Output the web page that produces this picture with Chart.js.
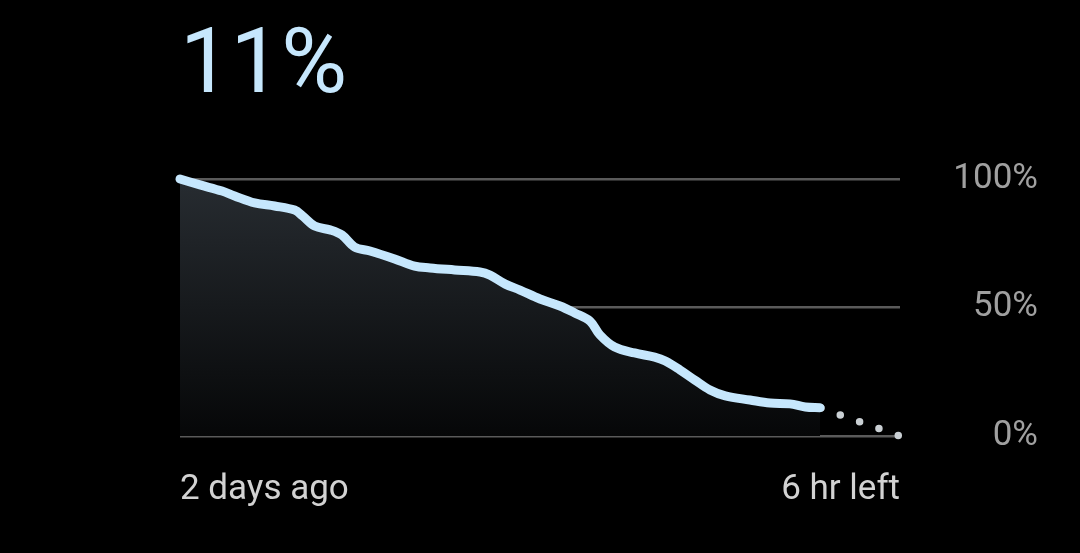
<!DOCTYPE html>
<html>
<head>
<meta charset="utf-8">
<script src="https://cdn.jsdelivr.net/npm/chart.js@4"></script>
<style>
  html, body { margin: 0; padding: 0; background: #000; }
  #wrap { position: relative; width: 1080px; height: 553px; }
  #level { position: absolute; left: 180px; top: 9px; color: #c6e7fd; font: 400 90px Roboto, sans-serif; }
  canvas { position: absolute; left: 0; top: 0; }
</style>
</head>
<body>
<div id="wrap">
  <div id="level">11%</div>
  <canvas id="chart" width="1080" height="553"></canvas>
</div>
<script>
// hours from "2 days ago" (0) to "6 hr left" (54); now = 48
const hours = [0, 1.5, 3.15, 4.1, 5.6, 7.1, 8.6, 9.2, 10.1, 11.25, 12.15, 13.1, 14.25, 16.1, 17.6, 18.75,
    20.6, 22.5, 23.25, 24.4, 25.5, 27, 28.5, 29.6, 30.75, 31.5, 32.6, 34.1, 35.6, 36.4, 37.5, 38.6,
    39.75, 40.9, 42.75, 44.25, 45.75, 46.9, 48];
const battery = [100, 97.7, 95.3, 93.4, 90.7, 89.5, 87.9, 85.6, 81.7, 80.2, 78.2, 73.5, 72.0, 68.9, 66.1, 65.4,
    64.6, 63.8, 62.6, 59.1, 56.8, 53.3, 50.6, 47.9, 44.7, 39.3, 34.6, 32.3, 30.7, 29.2, 25.7, 21.8,
    17.9, 15.6, 14.0, 12.8, 12.5, 11.3, 11.0];
const projHours = [48, 54];
const projBattery = [11, 0];
const yTicks = [0, 50, 100];
const xLabels = { 0: "2 days ago", 54: "6 hr left" };

const ctx = document.getElementById("chart").getContext("2d");
new Chart(ctx, {
    type: "line",
    data: {
        datasets: [
            {
                data: hours.map((h, i) => ({ x: h, y: battery[i] })),
                borderColor: "#c6e7fd",
                borderWidth: 9,
                borderCapStyle: "round",
                borderJoinStyle: "round",
                pointRadius: 0,
                tension: 0.35,
                clip: false,
                fill: "origin",
                backgroundColor: (c) => {
                    const area = c.chart.chartArea;
                    if (!area) return "#1a1d20";
                    const g = c.chart.ctx.createLinearGradient(0, area.top, 0, area.bottom);
                    g.addColorStop(0, "#272c31");
                    g.addColorStop(1, "#060708");
                    return g;
                }
            },
            {
                data: projHours.map((h, i) => ({ x: h, y: projBattery[i] })),
                borderColor: "#c9cfd3",
                borderWidth: 7.5,
                borderCapStyle: "round",
                borderDash: [0, 20.5],
                borderDashOffset: -1,
                pointRadius: 0,
                clip: false,
                fill: false
            }
        ]
    },
    options: {
        responsive: false,
        animation: false,
        layout: { padding: { top: 179, left: 180, right: 42, bottom: 0 } },
        plugins: { legend: { display: false }, tooltip: { enabled: false } },
        scales: {
            x: {
                type: "linear",
                min: 0,
                max: 54,
                grid: { display: false },
                border: { display: false },
                afterBuildTicks: (s) => { s.ticks = [{ value: 0 }, { value: 54 }]; },
                afterFit: (s) => { s.height = 117; },
                ticks: {
                    align: "inner",
                    padding: 25,
                    color: "#d2d2d2",
                    font: { family: "Roboto", size: 35 },
                    maxRotation: 0,
                    callback: (v) => xLabels[v]
                }
            },
            y: {
                position: "right",
                min: 0,
                max: 100,
                afterBuildTicks: (s) => { s.ticks = yTicks.map(v => ({ value: v })); },
                afterFit: (s) => { s.width = 138; },
                grid: { color: "#5a5a5a", lineWidth: 2.5, drawTicks: false },
                border: { display: false },
                ticks: {
                    crossAlign: "far",
                    color: "#a0a0a0",
                    font: { family: "Roboto", size: 35 },
                    callback: (v) => v + "%"
                }
            }
        }
    }
});
</script>
</body>
</html>
